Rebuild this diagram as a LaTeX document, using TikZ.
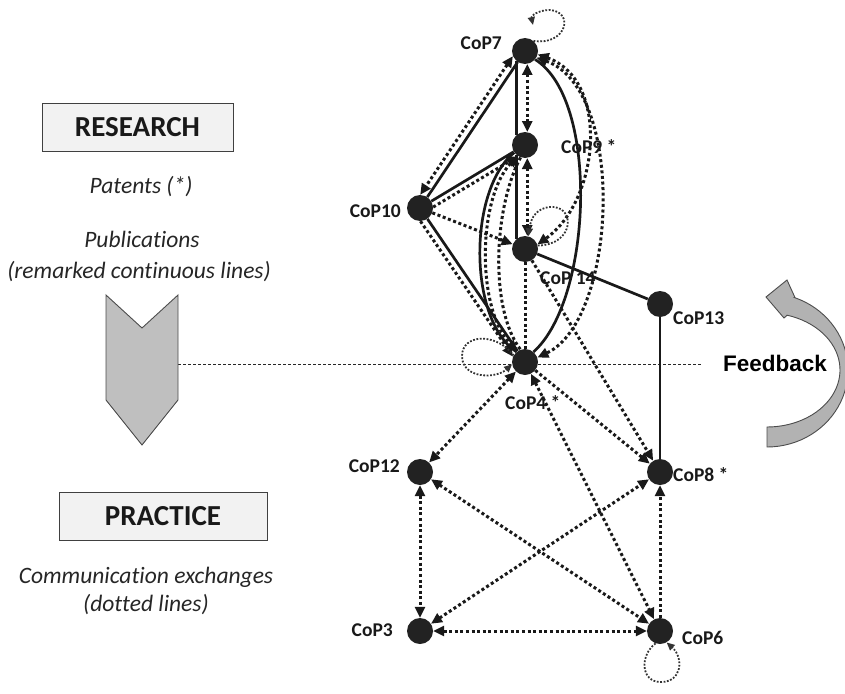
\documentclass[tikz,border=0pt]{standalone}
\usepackage{fontspec}
\setmainfont{Carlito}[Ligatures=NoCommon]
\newfontfamily\arialfont{Liberation Sans}
\usetikzlibrary{arrows.meta,backgrounds}
\definecolor{nodefill}{HTML}{222222}
\definecolor{boxfill}{HTML}{F2F2F2}
\definecolor{chevfill}{HTML}{BFBFBF}
\definecolor{fbfill}{HTML}{B2B2B2}
\begin{document}
\begin{tikzpicture}[x=1pt,y=-1pt,
  >={Triangle[length=11pt,width=10pt]},
  cop/.style={circle,fill=nodefill,minimum size=26pt,inner sep=0pt},
  lab/.style={font=\fontsize{19.5}{22}\selectfont\bfseries,text=black!90,inner sep=0pt},
  solidl/.style={line width=2.7pt,draw=black!90},
  dotl/.style={line width=3pt,dash pattern=on 3pt off 2.6pt,draw=black!90},
  loopl/.style={line width=1.8pt,dash pattern=on 1.8pt off 1.6pt,draw=black!80},
  looptip/.style={-{Triangle[length=8pt,width=7pt]}},
  hline/.style={line width=0.9pt,dash pattern=on 3pt off 2pt,draw=black!85},
  titlebox/.style={draw=black!75,line width=1pt,fill=boxfill},
  titletext/.style={font=\fontsize{29}{33}\selectfont\bfseries,text=black!90},
  itext/.style={font=\fontsize{23.5}{27}\selectfont\itshape,text=black!85,inner sep=0pt}
]
\useasboundingbox (0,0) rectangle (845,693);

% ---------- nodes ----------
\node[cop] (cop7)  at (525,51)  {};
\node[cop] (cop9)  at (525,145) {};
\node[cop] (cop10) at (420,208) {};
\node[cop] (cop14) at (525,249) {};
\node[cop] (cop13) at (660,304) {};
\node[cop] (cop4)  at (525,362) {};
\node[cop] (cop12) at (420,472) {};
\node[cop] (cop8)  at (660,472) {};
\node[cop] (cop3)  at (420,631) {};
\node[cop] (cop6)  at (660,631) {};

% ---------- node labels ----------
\node[lab,anchor=east] (l7)  at (502,43)  {CoP7};
\node[lab,anchor=west] (l9)  at (561,147) {CoP9 *};
\node[lab,anchor=east] (l10) at (401,211) {CoP10};
\node[lab,anchor=west] (l14) at (540,278) {CoP 14};
\node[lab,anchor=west] (l13) at (673,318) {CoP13};
\node[lab,anchor=west] (l4)  at (505,403) {CoP4 *};
\node[lab,anchor=east] (l12) at (400,466) {CoP12};
\node[lab,anchor=west] (l8)  at (673,475) {CoP8 *};
\node[lab,anchor=east] (l3)  at (393,630) {CoP3};
\node[lab,anchor=west] (l6)  at (682,638) {CoP6};

% ---------- left panel ----------
\draw[titlebox] (42,103) rectangle (233,151);
\node[titletext] (research) at (137.5,127) {RESEARCH};
\node[itext] (patents) at (141,187) {Patents (*)};
\node[itext] (publ) at (142,239) {Publications};
\node[itext,anchor=east] (remark) at (271,272) {(remarked continuous lines)};

\draw[draw=black!70,line width=0.9pt,fill=chevfill]
  (106,295) -- (142,328) -- (178,295) -- (178,400) -- (142,445) -- (106,400) -- cycle;
\coordinate (chevR) at (178,364);
\coordinate (hlineEnd) at (702,364);

\draw[titlebox] (59,492) rectangle (267,540);
\node[titletext] (practice) at (163,516) {PRACTICE};
\node[itext] (comm) at (146,577) {Communication exchanges};
\node[itext] (dotted) at (146,605) {(dotted lines)};

% ---------- feedback arrow ----------
\draw[draw=black!70,line width=0.9pt,fill=fbfill]
  (767,427) -- plot[domain=-90:74,samples=40] ({767+73*cos(\x)},{370-57*sin(\x)})
  -- (784,318) -- (766,297) -- (787,280) -- (795,297.6)
  -- plot[domain=70:-90,samples=40] ({767+81*cos(\x)},{370-77*sin(\x)}) -- cycle;
\node[font=\arialfont\fontsize{22.5}{26}\selectfont\bfseries,text=black,inner sep=0pt] (fb) at (775,363) {Feedback};

% ---------- connectors ----------
\begin{scope}[on background layer]
\draw[hline] (chevR) -- (hlineEnd);

% solid (publications)
\draw[solidl] (cop7.230) -- (cop9.130);
\draw[solidl] (cop9.230) -- (cop14.130);
\draw[solidl] (cop7) -- (cop10);
\draw[solidl] (cop10) -- (cop9);
\draw[solidl] (cop10) -- (cop4);
\draw[solidl] (cop9.215) .. controls (468,190) and (468,320) .. (cop4.130);
\draw[solidl] (cop7.320) .. controls (600,100) and (592,300) .. (cop4.50);
\draw[solidl] (cop14) -- (cop13);
\draw[solidl] (cop13) -- (cop8);

% dotted (communication)
\draw[dotl,<->] (cop7.280) -- (cop9.80);
\draw[dotl,<->] (cop9.280) -- (cop14.80);
\draw[dotl,<->] (cop7.203) -- (cop10.89);
\draw[dotl,->] (cop10.4) -- (cop9.238);
\draw[dotl,->] (cop10) -- (cop14);
\draw[dotl,->] (cop10.272) -- (cop4.156);
\draw[dotl] (cop14) -- (cop4);
\draw[dotl,->] (cop14) -- (cop8);
\draw[dotl,<->] (cop9.235) .. controls (477,200) and (477,310) .. (cop4.125);
\draw[dotl] (cop9.250) .. controls (493,210) and (490,310) .. (cop4.110);
\draw[dotl,<->] (cop7.330) .. controls (627,90) and (617,320) .. (cop4.20);
\draw[dotl,<->] (cop7.345) .. controls (610,80) and (600,200) .. (cop14.20);
\draw[dotl,<->] (cop4) -- (cop12);
\draw[dotl,->] (cop4) -- (cop8);
\draw[dotl,<->] (cop4) -- (cop6);
\draw[dotl,<->] (cop12) -- (cop3);
\draw[dotl,<->] (cop12) -- (cop6);
\draw[dotl,<->] (cop3) -- (cop8);
\draw[dotl,<->] (cop3) -- (cop6);
\draw[dotl,->] (cop6) -- (cop8);

% self loops
\draw[loopl,looptip] (cop7.50) .. controls (566,46) and (575,12) .. (550,10)
  .. controls (538,10) and (531,16) .. (533,25);
\draw[loopl,looptip] (cop14.15) .. controls (575,245) and (576,205) .. (550,207)
  .. controls (538,208) and (531,216) .. (cop14.75);
\draw[loopl,looptip] (cop4.150) .. controls (496,332) and (462,334) .. (462,356)
  .. controls (462,379) and (496,379) .. (cop4.190);
\draw[loopl,looptip] (cop6.250) .. controls (640,655) and (640,682) .. (661,682)
  .. controls (682,682) and (684,658) .. (cop6.300);
\end{scope}
\end{tikzpicture}
\end{document}
